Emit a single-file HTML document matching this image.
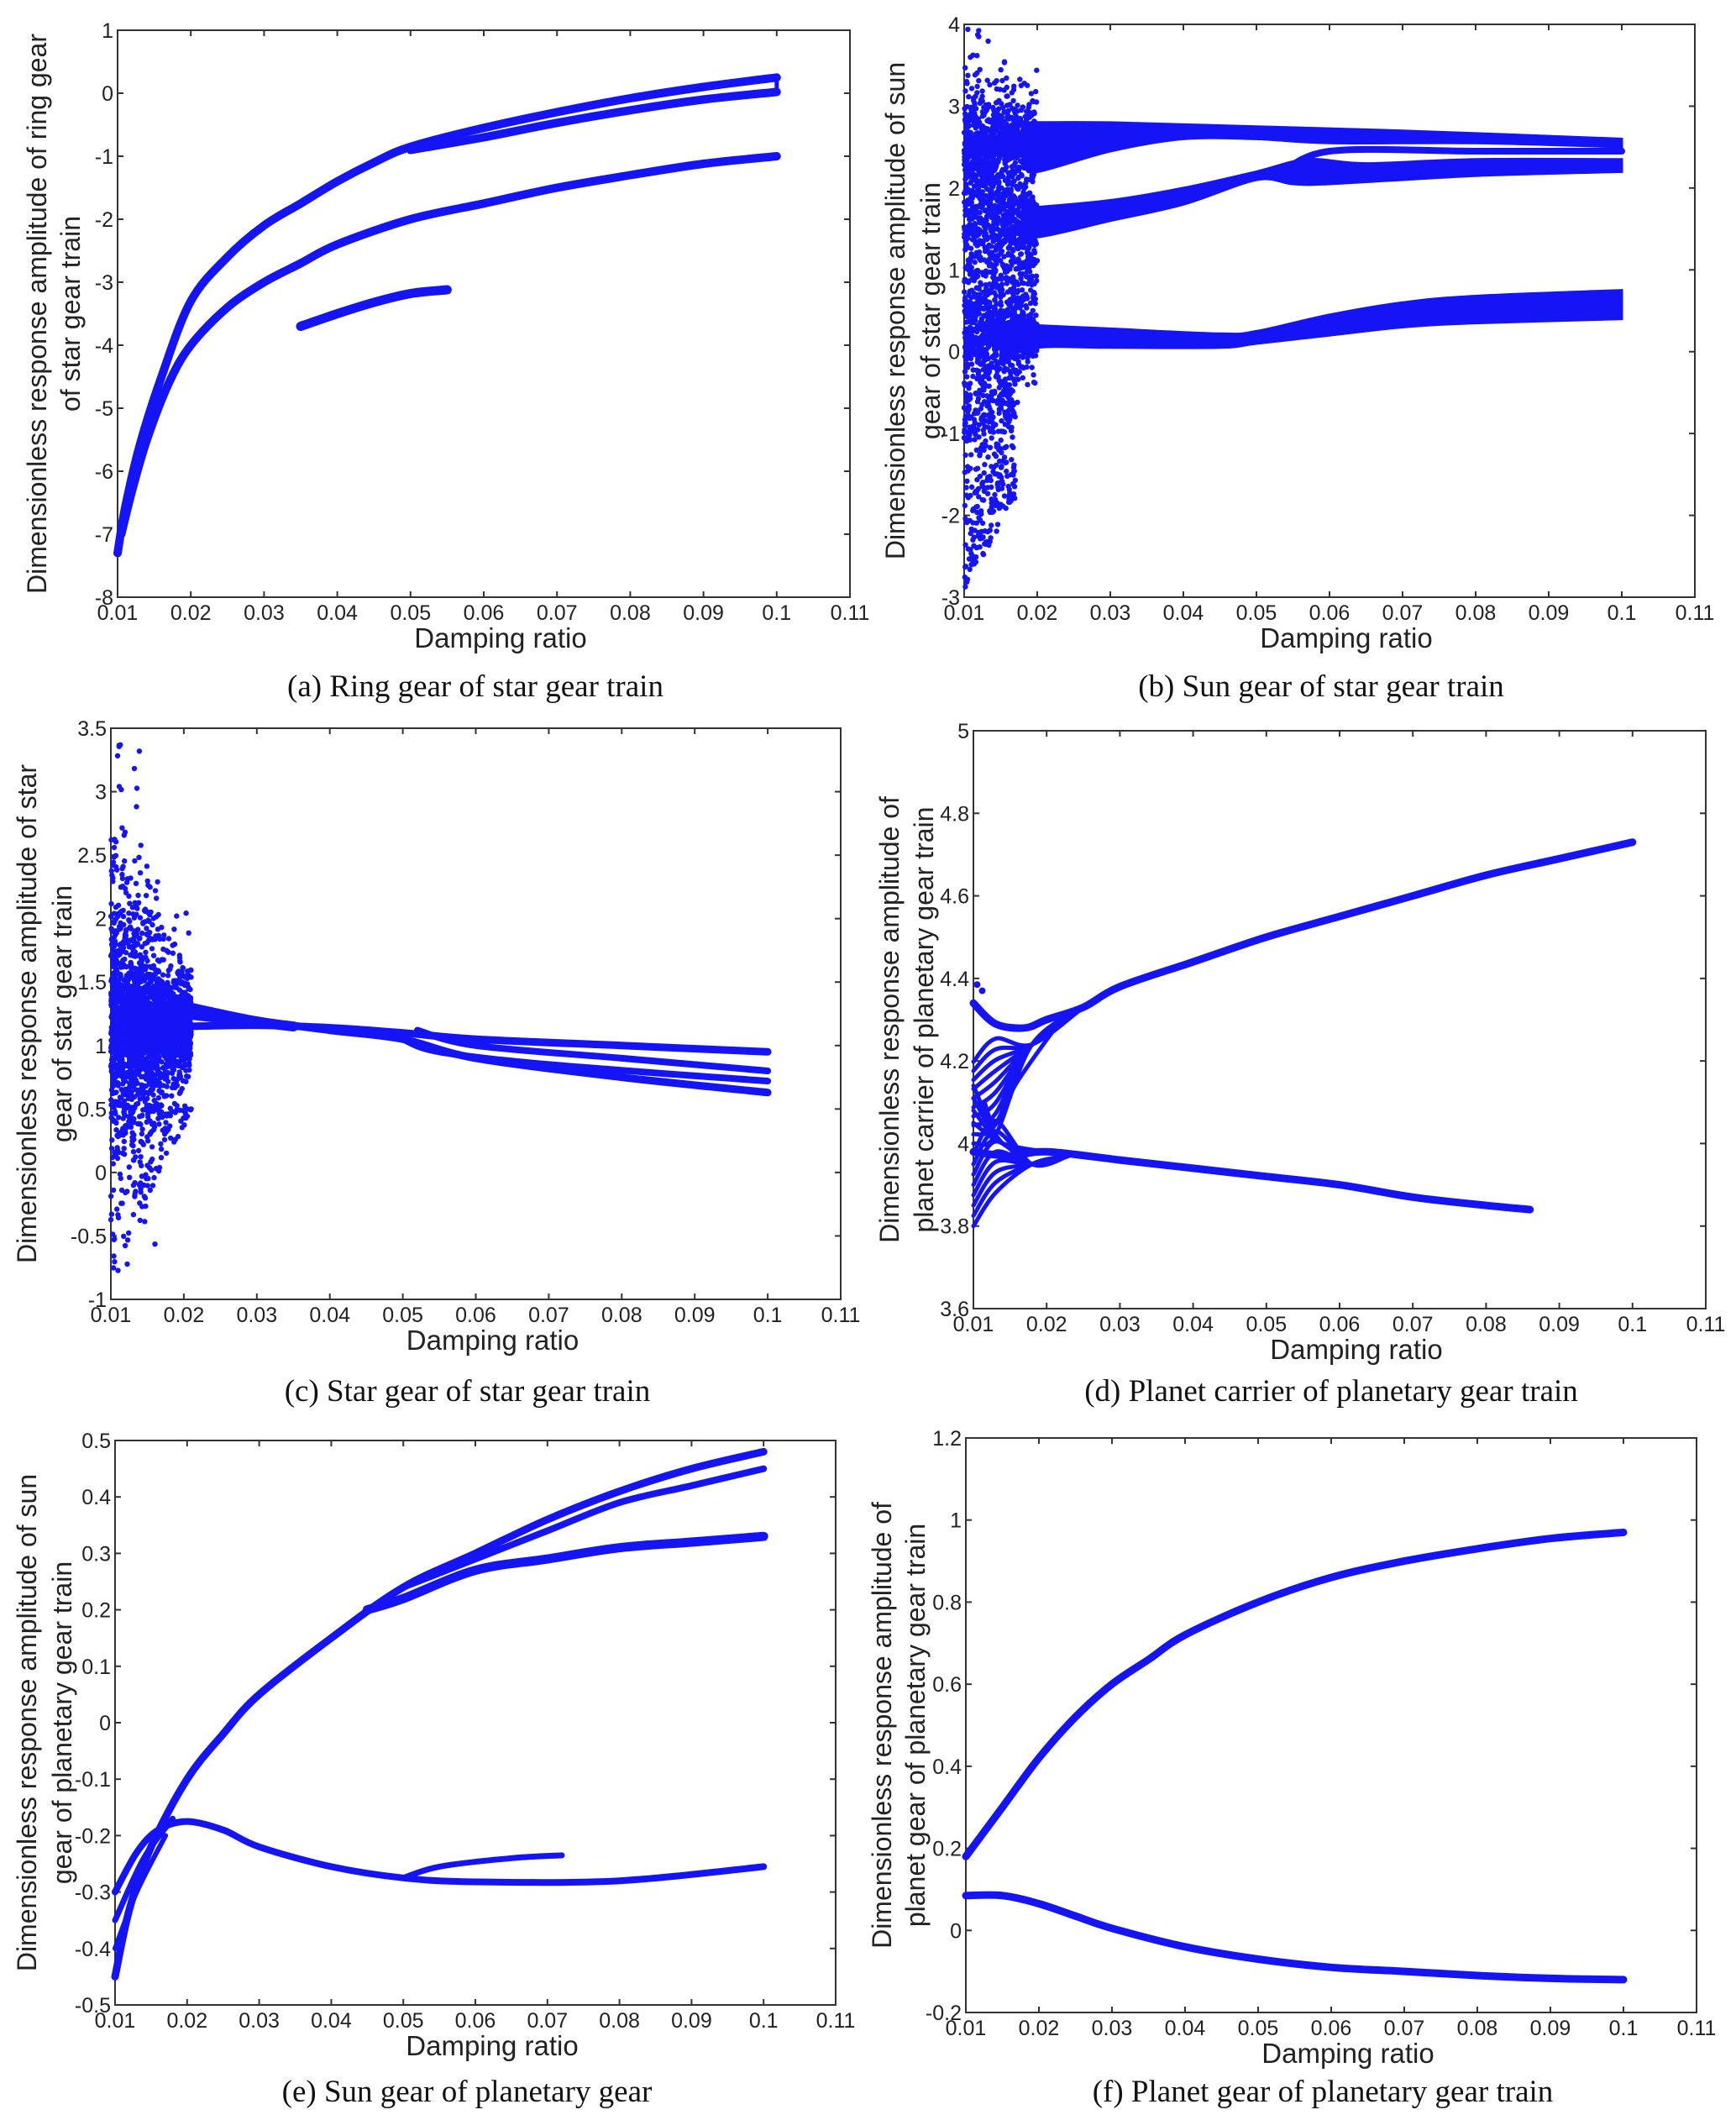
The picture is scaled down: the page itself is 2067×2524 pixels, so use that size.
<!DOCTYPE html>
<html><head><meta charset="utf-8">
<style>
html,body{margin:0;padding:0;background:#fff;}
svg{display:block;}
</style></head>
<body>
<svg id="s" width="2067" height="2524" xmlns="http://www.w3.org/2000/svg"></svg>
<script>
var S=document.getElementById('s');var out='';
var B='#1414f5';
var seed=7;function rnd(){seed=(seed*16807)%2147483647;return seed/2147483647;}
function gauss(){return (rnd()+rnd()+rnd()-1.5)/1.5;}
function lap(){var u=rnd();var v=-Math.log(1-rnd()*0.999)*0.45;return u<0.5?-v:v;}
var panels=[
{L:140,R:1012,T:36,Bm:711,y0:-8,y1:1,ys:1,lab:["Dimensionless response amplitude of ring gear","of star gear train"],lx:[44,84],cap:"(a) Ring gear of star gear train",cy:829},
{L:1148,R:2018,T:29,Bm:711,y0:-3,y1:4,ys:1,lab:["Dimensionless response amplitude of sun","gear of star gear train"],lx:[1066,1108],cap:"(b) Sun gear of star gear train",cy:829},
{L:132,R:1001,T:867,Bm:1547,y0:-1,y1:3.5,ys:0.5,lab:["Dimensionless response amplitude of star","gear of star gear train"],lx:[32,74],cap:"(c) Star gear of star gear train",cy:1668},
{L:1159,R:2031,T:870,Bm:1558,y0:3.6,y1:5,ys:0.2,lab:["Dimensionless response amplitude of","planet carrier of planetary gear train"],lx:[1059,1100],cap:"(d) Planet carrier of planetary gear train",cy:1668},
{L:137,R:995,T:1715,Bm:2387,y0:-0.5,y1:0.5,ys:0.1,lab:["Dimensionless response amplitude of sun","gear of planetary gear train"],lx:[32,74],cap:"(e) Sun gear of planetary gear",cy:2502},
{L:1150,R:2020,T:1712,Bm:2396,y0:-0.2,y1:1.2,ys:0.2,lab:["Dimensionless response amplitude of","planet gear of planetary gear train"],lx:[1050,1090],cap:"(f) Planet gear of planetary gear train",cy:2502}
];
function fmt(v){v=Math.round(v*1000)/1000;return String(v);}
var P;
function X(x){return P.L+(x-0.01)/0.1*(P.R-P.L);}
function Y(y){return P.Bm-(y-P.y0)/(P.y1-P.y0)*(P.Bm-P.T);}
function smooth(pts){
 var q=pts.map(function(p){return [X(p[0]),Y(p[1])]});
 if(q.length<3){return 'M'+q.map(function(p){return p[0].toFixed(1)+' '+p[1].toFixed(1)}).join('L');}
 var d='M'+q[0][0].toFixed(1)+' '+q[0][1].toFixed(1);
 for(var i=0;i<q.length-1;i++){
  var p0=q[Math.max(0,i-1)],p1=q[i],p2=q[i+1],p3=q[Math.min(q.length-1,i+2)];
  var c1=[p1[0]+(p2[0]-p0[0])/6,p1[1]+(p2[1]-p0[1])/6];
  var c2=[p2[0]-(p3[0]-p1[0])/6,p2[1]-(p3[1]-p1[1])/6];
  d+='C'+c1[0].toFixed(1)+' '+c1[1].toFixed(1)+' '+c2[0].toFixed(1)+' '+c2[1].toFixed(1)+' '+p2[0].toFixed(1)+' '+p2[1].toFixed(1);
 }return d;}
function line(pts,w){out+='<path d="'+smooth(pts)+'" fill="none" stroke="'+B+'" stroke-width="'+(w||8)+'" stroke-linecap="round" stroke-linejoin="round"/>';}
function band(top,bot){var d1=smooth(top);var r=bot.slice().reverse();var d2=smooth(r).replace(/^M/,'L');out+='<path d="'+d1+d2+'Z" fill="'+B+'" stroke="'+B+'" stroke-width="3"/>';}
function cloud(n,x0,x1,fy,r){for(var i=0;i<n;i++){var x=x0+rnd()*(x1-x0);var y=fy(x);if(y==null||y<P.y0||y>P.y1)continue;out+='<circle cx="'+X(x).toFixed(1)+'" cy="'+Y(y).toFixed(1)+'" r="'+(r||3.2)+'" fill="'+B+'"/>';}}
function axes(){
 out+='<rect x="'+P.L+'" y="'+P.T+'" width="'+(P.R-P.L)+'" height="'+(P.Bm-P.T)+'" fill="none" stroke="#333" stroke-width="2"/>';
 for(var i=0;i<=10;i++){var x=0.01+i*0.01;var px=X(x);
  out+='<line x1="'+px+'" y1="'+P.Bm+'" x2="'+px+'" y2="'+(P.Bm-7)+'" stroke="#333" stroke-width="2"/>';
  out+='<line x1="'+px+'" y1="'+P.T+'" x2="'+px+'" y2="'+(P.T+7)+'" stroke="#333" stroke-width="2"/>';
  out+='<text x="'+px+'" y="'+(P.Bm+27)+'" font-size="25" text-anchor="middle" fill="#222" font-family="Liberation Sans,sans-serif">'+fmt(x)+'</text>';}
 var n=Math.round((P.y1-P.y0)/P.ys);
 for(var j=0;j<=n;j++){var v=P.y0+j*P.ys;var py=Y(v);
  out+='<line x1="'+P.L+'" y1="'+py+'" x2="'+(P.L+7)+'" y2="'+py+'" stroke="#333" stroke-width="2"/>';
  out+='<line x1="'+P.R+'" y1="'+py+'" x2="'+(P.R-7)+'" y2="'+py+'" stroke="#333" stroke-width="2"/>';
  out+='<text x="'+(P.L-5)+'" y="'+(py+9)+'" font-size="25" text-anchor="end" fill="#222" font-family="Liberation Sans,sans-serif">'+fmt(v)+'</text>';}
 var cx=(P.L+P.R)/2, cyy=(P.T+P.Bm)/2;
 out+='<text x="'+(cx+20)+'" y="'+(P.Bm+60)+'" font-size="33" text-anchor="middle" fill="#222" font-family="Liberation Sans,sans-serif">Damping ratio</text>';
 for(var k=0;k<2;k++){out+='<text transform="translate('+(P.lx[k]+11)+','+cyy+') rotate(-90)" font-size="32" text-anchor="middle" fill="#222" font-family="Liberation Sans,sans-serif">'+P.lab[k]+'</text>';}
 out+='<text x="'+(cx-10)+'" y="'+P.cy+'" font-size="37" text-anchor="middle" fill="#111" font-family="Liberation Serif,serif">'+P.cap+'</text>';
}
// (a)
P=panels[0];axes();
line([[0.01,-7.3],[0.011,-6.6],[0.013,-5.6],[0.016,-4.5],[0.02,-3.3],[0.025,-2.6],[0.03,-2.1],[0.035,-1.75],[0.04,-1.4],[0.045,-1.1],[0.05,-0.85],[0.06,-0.55],[0.07,-0.3],[0.08,-0.08],[0.09,0.1],[0.1,0.25]],10);
line([[0.05,-0.9],[0.06,-0.7],[0.07,-0.47],[0.08,-0.27],[0.09,-0.1],[0.1,0.02]],10);
line([[0.0105,-7.0],[0.012,-6.3],[0.014,-5.5],[0.017,-4.6],[0.02,-4.0],[0.025,-3.4],[0.03,-3.0],[0.035,-2.7],[0.04,-2.4],[0.05,-2.0],[0.06,-1.75],[0.07,-1.5],[0.08,-1.3],[0.09,-1.12],[0.1,-1.0]],10);
line([[0.035,-3.7],[0.04,-3.5],[0.045,-3.32],[0.05,-3.18],[0.055,-3.12]],11);
line([[0.1,0.25],[0.1,0.02]],5);
// (b)
P=panels[1];axes();
band([[0.018,2.8],[0.03,2.8],[0.05,2.75],[0.07,2.7],[0.1,2.6]],[[0.018,2.3],[0.02,2.2],[0.03,2.45],[0.04,2.6],[0.05,2.6],[0.06,2.55],[0.08,2.55],[0.1,2.5]]);
band([[0.018,1.75],[0.03,1.85],[0.04,2.0],[0.05,2.2],[0.057,2.35],[0.065,2.3],[0.08,2.35],[0.1,2.35]],[[0.018,1.5],[0.02,1.4],[0.03,1.6],[0.04,1.8],[0.05,2.1],[0.055,2.05],[0.06,2.05],[0.08,2.15],[0.1,2.2]]);
line([[0.053,2.15],[0.06,2.45],[0.08,2.45],[0.1,2.45]],8);
band([[0.015,0.35],[0.02,0.32],[0.03,0.28],[0.045,0.22],[0.05,0.25],[0.06,0.45],[0.07,0.6],[0.08,0.68],[0.1,0.75]],[[0.015,-0.1],[0.02,0.05],[0.03,0.05],[0.045,0.05],[0.05,0.1],[0.06,0.2],[0.07,0.3],[0.08,0.35],[0.1,0.4]]);
cloud(3000,0.01,0.02,function(x){var r=rnd();var t=(x-0.01)/0.01;
 if(r<0.3)return 2.55+lap()*0.7*(1.2-t*0.6);
 if(r<0.5)return 1.5+lap()*1.0*(1.2-t*0.6);
 if(r<0.75)return 0.15+lap()*0.7*(1.3-t);
 if(r<0.85)return 0.2+(rnd()*2.6)*(1-t*0.5);
 if(x<0.017)return -0.3-rnd()*2.6*(1-t*0.6);return null;});
// (c)
P=panels[2];axes();
cloud(2800,0.01,0.021,function(x){var t=(x-0.01)/0.011;var s=(1-t*0.75);var v=1.15+lap()*1.0*s;if(rnd()<0.03)v=0.5-rnd()*1.4*(1-t);return v;});
line([[0.02,1.32],[0.03,1.2],[0.04,1.12],[0.05,1.05],[0.06,0.9],[0.08,0.75],[0.1,0.63]],9);
line([[0.02,1.15],[0.03,1.16],[0.04,1.14],[0.05,1.1],[0.06,1.05],[0.08,1.0],[0.1,0.95]],9);
line([[0.05,1.05],[0.055,0.95],[0.07,0.85],[0.1,0.72]],8);
line([[0.052,1.12],[0.06,1.0],[0.08,0.9],[0.1,0.8]],8);
line([[0.02,1.25],[0.035,1.15]],12);
// (d)
P=panels[3];axes();
line([[0.01,4.34],[0.013,4.29],[0.017,4.28],[0.02,4.3],[0.025,4.33],[0.03,4.38],[0.04,4.44],[0.05,4.5],[0.06,4.55],[0.07,4.6],[0.08,4.65],[0.09,4.69],[0.1,4.73]],9);
line([[0.01,3.98],[0.015,3.97],[0.02,3.98],[0.03,3.96],[0.04,3.94],[0.05,3.92],[0.06,3.9],[0.07,3.87],[0.08,3.85],[0.086,3.84]],9);
for(var i=0;i<10;i++){var y=4.0+i*0.022;line([[0.01,y],[0.013,y+0.02+i*0.004],[0.018,4.24],[0.025,4.33]],5);}
for(var i=0;i<8;i++){var y=3.8+i*0.025;line([[0.01,y],[0.013,y+0.08],[0.018,3.95],[0.023,3.97]],5);}
for(var i=0;i<4;i++){line([[0.01,4.05+i*0.03],[0.014,4.0],[0.02,3.98]],5);}
line([[0.0115,4.1],[0.013,4.05],[0.016,4.15],[0.022,4.3]],5);
out+='<circle cx="'+X(0.0105)+'" cy="'+Y(4.385)+'" r="4" fill="'+B+'"/><circle cx="'+X(0.0112)+'" cy="'+Y(4.37)+'" r="4" fill="'+B+'"/>';
// (e)
P=panels[4];axes();
line([[0.01,-0.45],[0.012,-0.33],[0.015,-0.22],[0.02,-0.1],[0.025,-0.02],[0.03,0.05],[0.04,0.15],[0.05,0.24],[0.06,0.3],[0.07,0.36],[0.08,0.41],[0.09,0.45],[0.1,0.48]],9);
line([[0.05,0.24],[0.06,0.29],[0.07,0.34],[0.08,0.39],[0.09,0.42],[0.1,0.45]],8);
line([[0.045,0.2],[0.05,0.22],[0.06,0.27],[0.07,0.29],[0.08,0.31],[0.09,0.32],[0.1,0.33]],11);
line([[0.01,-0.3],[0.013,-0.23],[0.016,-0.19],[0.02,-0.175],[0.025,-0.19],[0.03,-0.22],[0.04,-0.255],[0.05,-0.275],[0.06,-0.282],[0.08,-0.28],[0.1,-0.255]],8);
line([[0.05,-0.275],[0.055,-0.255],[0.065,-0.24],[0.072,-0.235]],7);
line([[0.01,-0.35],[0.014,-0.24],[0.018,-0.17]],7);
line([[0.01,-0.4],[0.013,-0.3],[0.017,-0.2]],6);
// (f)
P=panels[5];axes();
line([[0.01,0.18],[0.015,0.3],[0.02,0.42],[0.025,0.52],[0.03,0.6],[0.035,0.66],[0.04,0.72],[0.05,0.8],[0.06,0.86],[0.07,0.9],[0.08,0.93],[0.09,0.955],[0.1,0.97]],9);
line([[0.01,0.085],[0.015,0.085],[0.02,0.065],[0.025,0.035],[0.03,0.005],[0.04,-0.04],[0.05,-0.07],[0.06,-0.09],[0.07,-0.1],[0.08,-0.11],[0.09,-0.117],[0.1,-0.12]],9);
S.innerHTML=out;
</script>
</body></html>
